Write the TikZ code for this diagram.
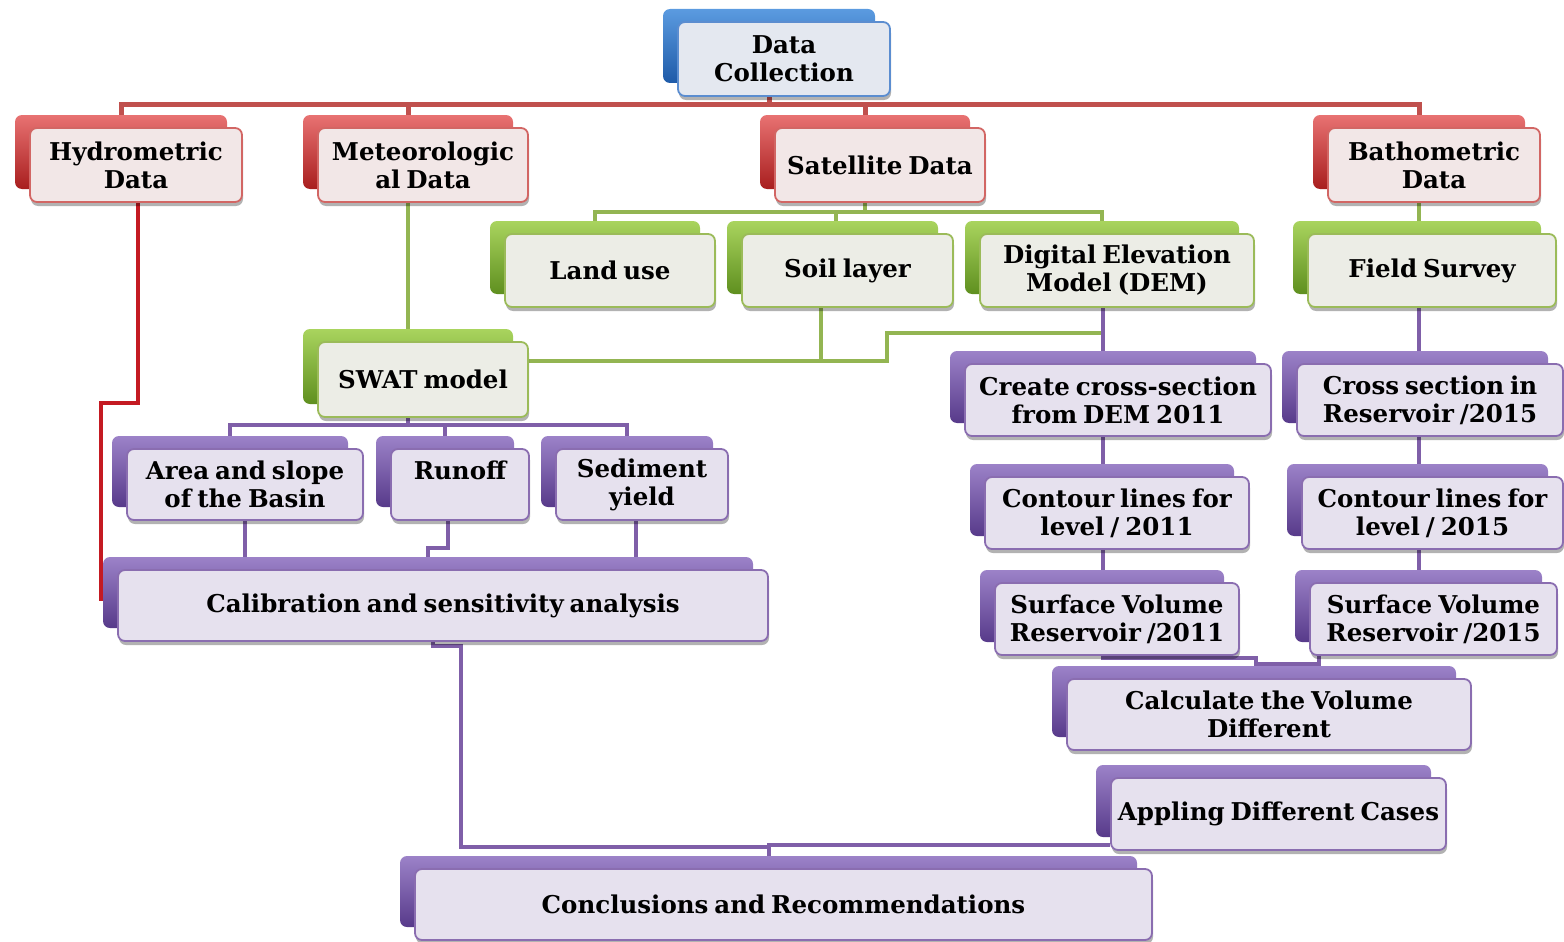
\documentclass[tikz,border=0pt]{standalone}
\usepackage{fontspec}
\setmainfont{DejaVu Serif}[WordSpace=0.7]
\usetikzlibrary{shadows,backgrounds,calc}
\definecolor{redF}{HTML}{F2E7E7}
\definecolor{redB}{HTML}{D26664}
\definecolor{redT}{HTML}{E87272}
\definecolor{redD}{HTML}{A81E1E}
\definecolor{greenF}{HTML}{ECEDE6}
\definecolor{greenB}{HTML}{9BBB59}
\definecolor{greenT}{HTML}{A9D45E}
\definecolor{greenD}{HTML}{5F8F1F}
\definecolor{purF}{HTML}{E6E1EE}
\definecolor{purB}{HTML}{8A6DB0}
\definecolor{purT}{HTML}{9C82C8}
\definecolor{purD}{HTML}{573A8A}
\definecolor{bluF}{HTML}{E4E8F0}
\definecolor{bluB}{HTML}{5B8DD0}
\definecolor{bluT}{HTML}{5B9BE0}
\definecolor{bluD}{HTML}{1E5AA8}
\definecolor{redC}{HTML}{C0504D}
\definecolor{redC2}{HTML}{C41A22}
\definecolor{greenC}{HTML}{93B552}
\definecolor{purC}{HTML}{7F5FA8}
\tikzset{
  box/.style={rounded corners=7pt, line width=1.8pt, align=center, inner sep=0pt,
    font=\bfseries\fontsize{24.5}{28}\selectfont, text=black},
  colbox/.style n args={4}{box, draw=#2, fill=#1,
    general shadow={shadow xshift=-15pt, shadow yshift=13pt, top color=#3, bottom color=#4},
    drop shadow={shadow xshift=1pt, shadow yshift=-4pt, opacity=.3, fill=black}},
  rbox/.style={colbox={redF}{redB}{redT}{redD}},
  gbox/.style={colbox={greenF}{greenB}{greenT}{greenD}},
  pbox/.style={colbox={purF}{purB}{purT}{purD}},
  bbox/.style={colbox={bluF}{bluB}{bluT}{bluD}},
  redline/.style={draw=redC, line width=5pt},
  redline2/.style={draw=redC2, line width=3.5pt},
  greenline/.style={draw=greenC, line width=4pt},
  purline/.style={draw=purC, line width=4pt},
}
\begin{document}
\begin{tikzpicture}[x=1pt,y=-1pt]
\useasboundingbox (0,0) rectangle (1564,942);
% top level
\node[bbox, minimum width=212pt, minimum height=74pt] (dc) at (784,59) {Data\\Collection};
\node[rbox, minimum width=212pt, minimum height=74pt] (hyd) at (136,165) {Hydrometric\\Data};
\node[rbox, minimum width=210pt, minimum height=74pt] (met) at (423,165) {Meteorologic\\al Data};
\node[rbox, minimum width=210pt, minimum height=74pt] (sat) at (880,165) {Satellite Data};
\node[rbox, minimum width=212pt, minimum height=74pt] (bat) at (1434,165) {Bathometric\\Data};
% green row
\node[gbox, minimum width=210pt, minimum height=73pt] (land) at (610,270.5) {Land use};
\node[gbox, minimum width=211pt, minimum height=73pt] (soil) at (847.5,270.5) {Soil layer};
\node[gbox, minimum width=274pt, minimum height=73pt] (dem) at (1117,270.5) {Digital Elevation\\Model (DEM)};
\node[gbox, minimum width=248pt, minimum height=73pt] (field) at (1432,270.5) {Field Survey};
\node[gbox, minimum width=210pt, minimum height=75pt] (swat) at (423,379.5) {SWAT model};
% left purple
\node[pbox, minimum width=236pt, minimum height=71pt] (area) at (245,484.5) {Area and slope\\of the Basin};
\node[pbox, minimum width=138pt, minimum height=71pt] (runoff) at (460,484.5) {Runoff\\\mbox{}};
\node[pbox, minimum width=172pt, minimum height=71pt] (sed) at (642,484.5) {Sediment\\yield};
\node[pbox, minimum width=650pt, minimum height=71pt] (calib) at (443,605.5) {Calibration and sensitivity analysis};
% right purple
\node[pbox, minimum width=306pt, minimum height=72pt] (create) at (1118,400) {Create cross-section\\from DEM 2011};
\node[pbox, minimum width=266pt, minimum height=72pt] (cross) at (1430,400) {Cross section in\\Reservoir /2015};
\node[pbox, minimum width=264pt, minimum height=72pt] (cont11) at (1117,513) {Contour lines for\\level / 2011};
\node[pbox, minimum width=261pt, minimum height=72pt] (cont15) at (1432.5,513) {Contour lines for\\level / 2015};
\node[pbox, minimum width=244pt, minimum height=72pt] (surf11) at (1117,619) {Surface Volume\\Reservoir /2011};
\node[pbox, minimum width=247pt, minimum height=72pt] (surf15) at (1433.5,619) {Surface Volume\\Reservoir /2015};
\node[pbox, minimum width=404pt, minimum height=71pt] (calc) at (1269,714.5) {Calculate the Volume\\Different};
\node[pbox, minimum width=335pt, minimum height=72pt] (appl) at (1278.5,814) {Appling Different Cases};
\node[pbox, minimum width=737pt, minimum height=71pt] (concl) at (783.5,904.5) {Conclusions and Recommendations};

\begin{pgfonlayer}{background}
\coordinate (busR) at (769,104);
\coordinate (busG) at (865,212);
\coordinate (busP) at (408,425);
\coordinate (colL) at ($(create.north)+(-15,0)$);
\coordinate (colR) at ($(bat.south)+(-15,0)$);
% red
\draw[redline] ($(dc.south)+(-15,0)$) -- (busR);
\draw[redline] ($(hyd.north)+(-15,0)$) |- (busR) -| ($(bat.north)+(-15,0)$);
\draw[redline] ($(met.north)+(-15,0)$) |- (busR);
\draw[redline] ($(sat.north)+(-15,0)$) |- (busR);
\draw[redline2] ($(hyd.south)+(2,0)$) -- ++(0,200) -| ($(calib.west)+(-16,-5)$);
% green
\draw[greenline] ($(met.south)+(-15,0)$) -- ($(swat.north)+(-15,0)$);
\draw[greenline] ($(sat.south)+(-15,0)$) -- (busG);
\draw[greenline] ($(land.north)+(-15,0)$) |- (busG) -| ($(dem.north)+(-15,0)$);
\draw[greenline] ($(soil.north)+(-12,0)$) |- (busG);
\draw[greenline] (colR) -- (colR |- field.north);
\draw[greenline] ($(soil.south)+(-27,0)$) |- ($(swat.east)+(0,-19)$);
\draw[greenline] ($(swat.east)+(0,-19)$) -- ($(swat.east)+(358,-19)$) |- ($(dem.south)+(-13,25)$);
% purple right
\draw[purline] (colL |- dem.south) -- (colL |- create.north);
\draw[purline] (colL |- create.south) -- (colL |- cont11.north);
\draw[purline] (colL |- cont11.south) -- (colL |- surf11.north);
\draw[purline] (colR |- field.south) -- (colR |- cross.north);
\draw[purline] (colR |- cross.south) -- (colR |- cont15.north);
\draw[purline] (colR |- cont15.south) -- (colR |- surf15.north);
\draw[purline] (colL |- surf11.south) |- ($(surf11.south east)+(16,2)$) |- ($(surf15.south west)+(10,8)$) -- ($(surf15.south west)+(10,0)$);
\draw[purline] ($(calc.north)+(-6,0)$) -- ++(0,-12);
\draw[purline] ($(appl.north)+(-15,0)$) -- ($(appl.north)+(-15,0)$ |- calc.south);
% purple left
\draw[purline] ($(swat.south)+(-15,0)$) -- (busP);
\draw[purline] ($(area.north)+(-15,0)$) |- (busP) -| ($(sed.north)+(-15,0)$);
\draw[purline] ($(runoff.north)+(-15,0)$) |- (busP);
\draw[purline] (area.south) -- (area.south |- calib.north);
\draw[purline] ($(runoff.south)+(-12,0)$) |- ($(runoff.south)+(-32,27)$) -- ($(runoff.south)+(-32,50)$);
\draw[purline] ($(sed.south)+(-6,0)$) -- ($(sed.south)+(-6,50)$);
\draw[purline] ($(calib.south)+(-10,0)$) -- ++(0,4) -| ($(calib.south)+(18,205)$) -| ($(concl.north)+(-15,0)$);
\draw[purline] ($(appl.west)+(0,31)$) -| ($(concl.north)+(-15,0)$);
\end{pgfonlayer}
\end{tikzpicture}
\end{document}
